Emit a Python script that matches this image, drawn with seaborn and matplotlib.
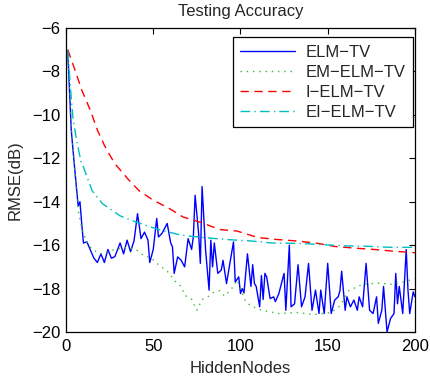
import matplotlib
matplotlib.use("Agg")
import matplotlib.pyplot as plt
import seaborn as sns
import pandas as pd

# ---------------- data ----------------
elm_nodes = [1, 3, 4, 5, 7, 8, 9, 10, 12, 14, 16, 18, 20, 22, 24, 26, 28, 31, 33, 35,
             37, 39, 41, 43, 45, 47, 48, 50, 52, 53, 55, 57, 58, 60, 61, 62, 64, 66, 68, 70,
             72, 73, 74, 76, 77, 78, 80, 81, 82, 83, 84, 85, 87, 89, 90, 92, 94, 96, 97, 99,
             100, 101, 102, 104, 106, 107, 108, 109, 111, 112, 113, 114, 115, 117, 119, 120,
             122, 124, 125, 126, 128, 129, 131, 133, 135, 137, 139, 141, 143, 145, 146, 148,
             150, 152, 154, 156, 157, 158, 160, 161, 163, 165, 167, 168, 170, 172, 174, 176,
             178, 179, 181, 182, 184, 186, 188, 189, 190, 191, 193, 195, 196, 197, 199, 200]
elm_rmse = [-7.05, -10.7, -11.6, -12.5, -14.2, -14.0, -15.0, -15.9, -15.85, -16.23,
            -16.6, -16.8, -16.4, -16.8, -16.2, -16.6, -16.53, -15.9, -16.4, -15.77,
            -16.3, -15.8, -14.55, -15.7, -15.4, -15.77, -16.8, -16.2, -14.77, -15.62,
            -15.46, -15.15, -15.0, -15.9, -16.07, -17.3, -16.54, -16.7, -17.0, -15.7,
            -16.2, -15.6, -13.7, -15.46, -16.84, -13.3, -16.23, -17.15, -18.07, -15.77,
            -17.0, -15.9, -17.3, -17.15, -16.7, -17.77, -16.8, -15.85, -17.7, -17.46,
            -18.23, -18.0, -18.2, -16.4, -17.9, -16.9, -17.77, -17.9, -18.84, -17.4,
            -18.5, -17.3, -17.46, -18.46, -18.38, -18.6, -18.23, -17.6, -17.3, -19.0,
            -16.0, -18.84, -18.7, -16.9, -18.84, -18.38, -16.84, -19.0, -18.07, -19.15,
            -18.07, -19.15, -16.84, -19.15, -18.53, -18.38, -18.1, -17.2, -19.0, -18.38,
            -18.84, -18.53, -19.0, -18.38, -18.84, -16.84, -19.0, -19.15, -18.38, -19.6,
            -19.0, -17.9, -20.0, -19.38, -19.15, -17.3, -18.7, -17.9, -19.15, -16.2,
            -18.07, -19.15, -18.15, -18.38]

em_nodes = [1, 3, 5, 7, 9, 12, 15, 20, 28, 35, 40, 44, 49, 53, 58, 63, 66, 68, 72, 75,
            78, 81, 85, 88, 91, 96, 98, 103, 106, 112, 122, 132, 142, 147, 152, 157, 162,
            170, 180, 186, 193, 200]
em_rmse = [-7.0, -10.5, -12.5, -14.4, -15.2, -15.9, -16.2, -16.4, -16.2, -16.1, -16.2,
           -16.45, -16.6, -16.9, -17.2, -17.7, -17.9, -18.3, -18.5, -19.0, -18.5, -18.4,
           -18.15, -18.1, -18.35, -17.9, -17.6, -18.6, -18.8, -19.0, -19.15, -19.1, -19.2,
           -19.15, -19.1, -18.8, -18.1, -17.8, -17.75, -17.8, -17.7, -17.55]

i_nodes = [1, 5, 9, 14, 18, 22, 24, 28, 36, 42, 50, 59, 67, 78, 88, 98, 110, 121, 131,
           143, 154, 166, 177, 188, 200]
i_rmse = [-7.0, -7.9, -8.85, -9.8, -10.7, -11.4, -11.7, -12.25, -13.0, -13.5, -13.93,
          -14.3, -14.7, -14.97, -15.28, -15.35, -15.65, -15.74, -15.8, -15.9, -16.06,
          -16.14, -16.2, -16.28, -16.35]

ei_nodes = [1, 3, 4, 6, 9, 10, 15, 21, 31, 40, 53, 66, 79, 92, 98, 105, 118, 134, 146,
            159, 172, 186, 200]
ei_rmse = [-7.05, -9.2, -10.15, -11.15, -12.3, -12.4, -13.5, -14.1, -14.65, -14.93,
           -15.28, -15.54, -15.65, -15.74, -15.77, -15.8, -15.9, -15.92, -15.97, -16.03,
           -16.05, -16.1, -16.1]

labels = ["ELM\u2212TV", "EM\u2212ELM\u2212TV", "I\u2212ELM\u2212TV", "EI\u2212ELM\u2212TV"]
x_ticks = [0, 50, 100, 150, 200]
y_ticks = [-20, -18, -16, -14, -12, -10, -8, -6]

# ---------------- plotting ----------------
sns.set_style("white")
plt.rcParams['font.family'] = ['Liberation Sans', 'DejaVu Sans']
plt.rcParams['axes.unicode_minus'] = True

fig = plt.figure(figsize=(4.3, 3.79), dpi=100)
ax = fig.add_axes([0.1535, 0.124, 0.8115, 0.802])

series = [
    (elm_nodes, elm_rmse, labels[0], "#0000ff", "-"),
    (em_nodes, em_rmse, labels[1], "#33bb33", (0, (1, 3.5))),
    (i_nodes, i_rmse, labels[2], "#ff0000", (0, (6, 4))),
    (ei_nodes, ei_rmse, labels[3], "#00bfbf", (0, (7, 3, 1, 3))),
]
for xs, ys, lab, col, ls in series:
    df = pd.DataFrame({"nodes": xs, "rmse": ys})
    sns.lineplot(data=df, x="nodes", y="rmse", ax=ax, color=col, linestyle=ls,
                 linewidth=1.0, label=lab, sort=False, estimator=None)

ax.set_xlim(0, 200)
ax.set_ylim(-20, -6)
ax.set_xticks(x_ticks)
ax.set_yticks(y_ticks)
ax.tick_params(direction="in", length=4, width=0.8, top=True, right=True,
               labelsize=12, colors="black")
ax.tick_params(axis="x", pad=5)
ax.tick_params(axis="y", pad=4)
for s in ax.spines.values():
    s.set_color("black")
    s.set_linewidth(0.9)

ax.set_title("Testing Accuracy", fontsize=12, pad=8.5)
ax.set_xlabel("HiddenNodes", fontsize=12, labelpad=5)
ax.set_ylabel("RMSE(dB)", fontsize=12, labelpad=7)

leg = ax.legend(loc="upper right", bbox_to_anchor=(0.994, 0.970), fontsize=12,
                handlelength=3.3, frameon=True, fancybox=False, edgecolor="black",
                framealpha=1, borderaxespad=0.0, borderpad=0.45,
                labelspacing=0.3, handletextpad=0.6)
leg.get_frame().set_linewidth(0.9)

fig.savefig("out.png", dpi=100)
